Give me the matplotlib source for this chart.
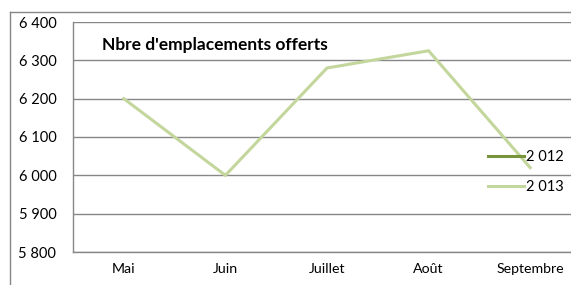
import numpy as np
import matplotlib.pyplot as plt
from matplotlib.ticker import FuncFormatter
from matplotlib.lines import Line2D

mois = ['Mai', 'Juin', 'Juillet', 'Août', 'Septembre']
serie_2012 = [np.nan, np.nan, np.nan, np.nan, np.nan]
serie_2013 = [6200, 6000, 6280, 6325, 6020]
noms = ['2 012', '2 013']

plt.rcParams['font.family'] = ['Lato', 'DejaVu Sans']

W, H = 571, 285
fig = plt.figure(figsize=(W / 100, H / 100), dpi=100)
ax = fig.add_axes([73 / W, 1 - 252 / H, (581 - 73) / W, (252 - 22) / H])

x = np.arange(len(mois))
ax.plot(x, serie_2012, color='#77933C', lw=2.2, label=noms[0])
ax.plot(x, serie_2013, color='#C3D69B', lw=2.2, label=noms[1], solid_joinstyle='miter')

ax.set_xlim(-0.5, len(mois) - 0.5)
ax.set_ylim(5800, 6400)
ax.set_yticks(range(5800, 6401, 100))
ax.yaxis.set_major_formatter(FuncFormatter(lambda v, p: f'{int(v):,}'.replace(',', ' ')))
ax.set_xticks(x)
ax.set_xticklabels(mois)
ax.tick_params(axis='y', length=0, pad=12, labelsize=10.5)
ax.tick_params(axis='x', length=0, pad=8, labelsize=10.2)
ax.grid(axis='y', color='#878787', lw=1)
ax.set_axisbelow(True)
for s in ['top', 'right']:
    ax.spines[s].set_visible(False)
for s in ['left', 'bottom']:
    ax.spines[s].set_color('#878787')
    ax.spines[s].set_linewidth(1)

ax.text(0.058, 0.90, "Nbre d'emplacements offerts", transform=ax.transAxes,
        fontsize=12.5, fontweight='bold', va='center', ha='left')

leg = ax.legend(loc='upper left', bbox_to_anchor=((482 - 73) / (581 - 73), (252 - 144) / 230),
                frameon=False, fontsize=10.5, handlelength=2.5, handletextpad=0.15,
                labelspacing=1.1, borderaxespad=0)

# cadre du graphique
fig.add_artist(Line2D([10 / W, 10 / W], [0, 1 - 12 / H], color='#868686', lw=1))
fig.add_artist(Line2D([10 / W, 1], [1 - 12 / H, 1 - 12 / H], color='#868686', lw=1))

fig.savefig('out.png', dpi=100)
